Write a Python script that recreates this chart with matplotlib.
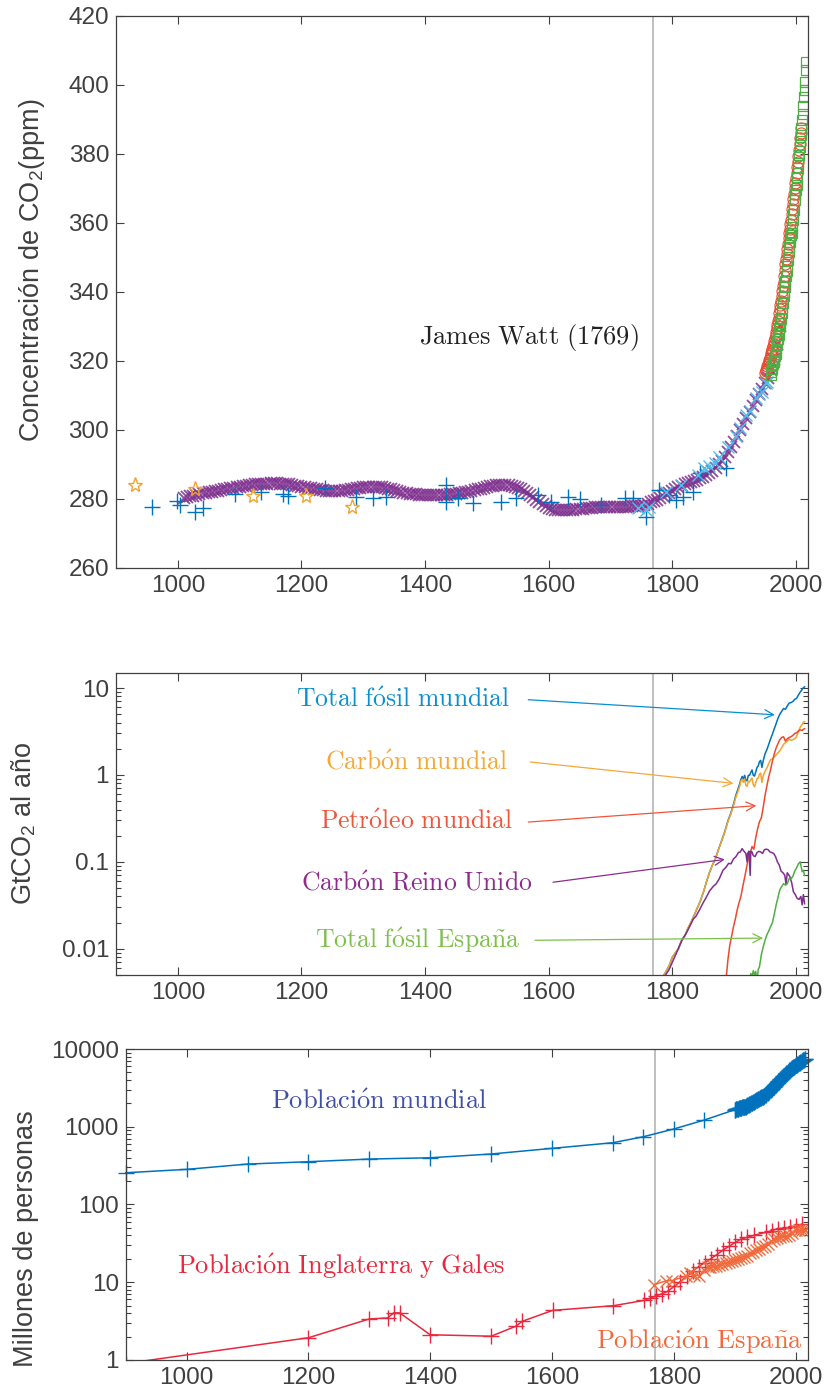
import matplotlib
matplotlib.use('Agg')
import matplotlib.pyplot as plt
from matplotlib.ticker import FixedLocator, FixedFormatter, LogLocator, NullFormatter

# ---------------- CO2 concentration (ppm) ----------------
# ice core samples (+)
core_years = [959, 998, 1003, 1028, 1041, 1092, 1135, 1170, 1178, 1238, 1289, 1316, 1337,
              1434, 1434, 1453, 1477, 1523, 1547, 1582, 1604, 1631, 1650, 1685, 1723, 1736,
              1758, 1779, 1795, 1806, 1817, 1833, 1844, 1887]
core_ppm = [277.6, 279.4, 278.3, 276.3, 277.3, 281.4, 282.0, 281.4, 281.0, 283.1, 280.7, 280.4, 280.7,
            284.0, 279.2, 280.2, 278.8, 279.2, 280.2, 281.2, 279.2, 280.7, 279.9, 278.3, 280.2, 280.2,
            274.9, 282.6, 281.2, 279.7, 280.7, 282.1, 287.5, 288.9]
# second core record (stars)
star_years = [931, 1028, 1122, 1208, 1281]
star_ppm = [284.0, 282.8, 281.0, 281.0, 277.8]
# smoothed record (purple x), every 5 years from 1010 to 1975
smooth_years = list(range(1010, 1980, 5))
smooth_ppm = [280.4, 280.6, 280.8, 281.0, 281.2, 281.4, 281.6, 281.8, 282.0, 282.15,
              282.3, 282.45, 282.6, 282.75, 282.9, 283.1, 283.3, 283.45, 283.6, 283.75,
              283.9, 284.0, 284.1, 284.2, 284.3, 284.35, 284.4, 284.45, 284.5, 284.5,
              284.5, 284.45, 284.4, 284.3, 284.2, 284.05, 283.9, 283.75, 283.6, 283.45,
              283.3, 283.15, 283.0, 282.85, 282.7, 282.55, 282.4, 282.35, 282.3, 282.3,
              282.3, 282.4, 282.5, 282.65, 282.8, 282.95, 283.1, 283.25, 283.4, 283.5,
              283.6, 283.6, 283.6, 283.5, 283.4, 283.2, 283.0, 282.75, 282.5, 282.25,
              282.0, 281.8, 281.6, 281.5, 281.4, 281.3, 281.2, 281.2, 281.2, 281.2,
              281.2, 281.2, 281.2, 281.2, 281.2, 281.25, 281.3, 281.4, 281.5, 281.65,
              281.8, 281.95, 282.1, 282.3, 282.5, 282.75, 283.0, 283.25, 283.5, 283.7,
              283.9, 284.0, 284.1, 284.1, 284.1, 284.0, 283.8, 283.5, 283.2, 282.8,
              282.3, 281.7, 281.1, 280.5, 279.8, 279.1, 278.5, 278.0, 277.5, 277.2,
              276.9, 276.8, 276.7, 276.75, 276.8, 276.85, 276.9, 277.0, 277.1, 277.2,
              277.3, 277.4, 277.5, 277.55, 277.6, 277.65, 277.7, 277.75, 277.8, 277.8,
              277.8, 277.8, 277.8, 277.8, 277.8, 277.85, 277.85, 277.9, 278.1, 278.3,
              278.6, 279.0, 279.4, 279.8, 280.3, 280.8, 281.3, 281.8, 282.4, 282.9,
              283.4, 283.8, 284.2, 284.6, 284.9, 285.2, 285.6, 286.0, 286.5, 287.0,
              287.5, 288.2, 289.0, 290.0, 291.0, 292.2, 293.5, 295.0, 296.5, 298.2,
              300.0, 301.7, 303.5, 305.2, 307.0, 308.8, 310.5, 312.0, 313.5, 315.0,
              317.5, 320.5, 325.0, 330.0]
# firn record (cyan x)
firn_years = [1744, 1757, 1763, 1790, 1814, 1841, 1852, 1860, 1869, 1876, 1890, 1903, 1910, 1919,
              1925, 1935, 1940, 1945, 1951, 1953]
firn_ppm = [277.3, 276.8, 277.8, 282.0, 284.1, 286.9, 288.9, 289.5, 290.5, 292.3, 295.0, 298.2, 300.5, 304.4,
            305.5, 309.2, 310.5, 311.0, 313.5, 314.0]
# atmospheric station (red o)
station_years = list(range(1950, 2010))
station_ppm = [316.5, 317.0, 317.5, 318.0, 318.6, 319.2, 319.8, 320.4, 321.0, 321.6,
               322.2, 322.9, 323.6, 324.3, 325.0, 325.8, 326.7, 327.6, 328.5, 329.5,
               330.5, 331.5, 332.6, 333.8, 335.0, 336.3, 337.5, 338.8, 340.2, 341.6,
               343.0, 344.6, 346.3, 348.0, 349.5, 351.0, 352.5, 354.0, 355.5, 357.0,
               358.3, 359.6, 361.0, 362.5, 364.0, 365.5, 367.0, 368.5, 370.0, 371.5,
               373.0, 374.5, 376.2, 377.8, 379.5, 381.2, 382.9, 384.5, 386.0, 387.5]
# Mauna Loa annual means (green squares)
mlo_years = list(range(1959, 2018))
mlo_ppm = [315.97, 316.91, 317.64, 318.45, 318.99, 319.62, 320.04, 321.38, 322.16, 323.04,
           324.62, 325.68, 326.32, 327.45, 329.68, 330.18, 331.11, 332.04, 333.83, 335.40,
           336.84, 338.75, 340.11, 341.45, 343.05, 344.65, 346.12, 347.42, 349.19, 351.57,
           353.12, 354.39, 355.61, 356.45, 357.10, 358.83, 360.82, 362.61, 363.73, 366.70,
           368.38, 369.55, 371.14, 373.28, 375.80, 377.52, 379.80, 381.90, 383.79, 385.60,
           387.43, 389.90, 391.65, 393.85, 396.52, 398.65, 400.83, 404.24, 406.55]

# ---------------- emissions (GtC per year) ----------------
coal_years = [1751, 1760, 1770, 1780, 1788, 1795, 1800, 1805, 1810, 1815, 1820, 1825, 1830, 1835,
              1840, 1845, 1850, 1855, 1860, 1865, 1870, 1875, 1880, 1885, 1890, 1895, 1900, 1903,
              1906, 1909, 1911, 1913, 1915, 1917, 1919, 1921, 1923, 1925, 1927, 1929, 1931, 1933,
              1935, 1937, 1939, 1941, 1943, 1945, 1947, 1950, 1953, 1956, 1959, 1962, 1965, 1968,
              1971, 1974, 1977, 1980, 1983, 1986, 1989, 1992, 1995, 1998, 2001, 2004, 2007, 2010,
              2012, 2014]
coal_world = [0.0026, 0.0030, 0.0037, 0.0042, 0.0052, 0.0064, 0.0080, 0.0090, 0.0100, 0.0125, 0.0140,
              0.0170, 0.0200, 0.0240, 0.0290, 0.0350, 0.0440, 0.0580, 0.0750, 0.0920, 0.1100, 0.1400,
              0.1750, 0.2200, 0.2900, 0.3600, 0.4700, 0.5600, 0.6400, 0.7400, 0.8500, 0.8900, 0.8200,
              0.9000, 0.7600, 0.7400, 0.8500, 0.8300, 0.8800, 0.9200, 0.7700, 0.7300, 0.8100, 0.9000,
              0.9200, 1.0200, 1.0500, 0.8200, 0.9800, 1.1000, 1.2000, 1.3500, 1.5000, 1.5200, 1.6200,
              1.7000, 1.8000, 1.9000, 2.0500, 2.2500, 2.3500, 2.4500, 2.6000, 2.5000, 2.5500, 2.6000,
              2.7500, 3.1500, 3.5500, 3.8000, 4.0500, 4.1000]
total_world = [0.0026, 0.0030, 0.0037, 0.0042, 0.0052, 0.0064, 0.0080, 0.0090, 0.0100, 0.0125, 0.0140,
               0.0170, 0.0200, 0.0240, 0.0290, 0.0350, 0.0440, 0.0580, 0.0750, 0.0920, 0.1100, 0.1410,
               0.1770, 0.2240, 0.2970, 0.3700, 0.4900, 0.5900, 0.6800, 0.7900, 0.8900, 0.9600, 0.9000,
               0.9900, 0.8600, 0.8600, 0.9900, 0.9900, 1.0700, 1.1400, 0.9900, 0.9700, 1.0800, 1.2200,
               1.2700, 1.4200, 1.4700, 1.2200, 1.4500, 1.7500, 1.9500, 2.2500, 2.6000, 2.9500, 3.4000,
               3.9000, 4.5000, 5.0000, 5.4000, 5.8000, 5.7000, 6.2000, 6.7000, 6.8000, 7.0000, 7.4000,
               7.6000, 8.3000, 9.0000, 9.6000, 10.100, 10.300]
oil_years = [1870, 1880, 1887, 1890, 1893, 1896, 1899, 1902, 1905, 1908, 1911, 1914, 1917, 1920, 1923,
             1926, 1929, 1932, 1935, 1938, 1941, 1944, 1947, 1950, 1953, 1956, 1959, 1962, 1965, 1968,
             1971, 1974, 1977, 1980, 1983, 1986, 1989, 1992, 1995, 1998, 2001, 2004, 2007, 2010, 2012,
             2014]
oil_world = [0.001, 0.002, 0.0045, 0.0075, 0.011, 0.014, 0.018, 0.022, 0.028, 0.034, 0.040, 0.052,
             0.066, 0.085, 0.11, 0.125, 0.15, 0.14, 0.19, 0.24, 0.29, 0.32, 0.42, 0.58, 0.75, 0.95,
             1.15, 1.45, 1.75, 2.05, 2.3, 2.55, 2.7, 2.75, 2.45, 2.6, 2.7, 2.75, 2.85, 3.0, 3.05, 3.2,
             3.3, 3.25, 3.35, 3.4]
uk_years = [1751, 1770, 1785, 1795, 1800, 1806, 1812, 1818, 1822, 1828, 1834, 1838, 1844, 1850, 1854,
            1860, 1866, 1871, 1876, 1882, 1887, 1891, 1895, 1899, 1903, 1907, 1910, 1913, 1915, 1917,
            1919, 1921, 1922, 1924, 1926, 1927, 1929, 1931, 1934, 1937, 1940, 1943, 1946, 1949, 1952,
            1955, 1958, 1961, 1964, 1967, 1970, 1973, 1976, 1979, 1982, 1984, 1986, 1990, 1993, 1996,
            1999, 2002, 2005, 2008, 2010, 2012, 2014]
uk_coal = [0.0024, 0.0033, 0.0045, 0.0058, 0.0070, 0.0087, 0.0110, 0.0135, 0.0148, 0.0180, 0.0220,
           0.0235, 0.0280, 0.0340, 0.0380, 0.0460, 0.0520, 0.0560, 0.0640, 0.0800, 0.0870, 0.0960,
           0.0950, 0.1080, 0.1150, 0.1280, 0.1300, 0.1420, 0.1350, 0.1300, 0.1250, 0.1000, 0.1250,
           0.1330, 0.0700, 0.1320, 0.1300, 0.1180, 0.1150, 0.1280, 0.1320, 0.1300, 0.1250, 0.1380,
           0.1400, 0.1380, 0.1300, 0.1280, 0.1250, 0.1150, 0.1000, 0.0920, 0.0780, 0.0750, 0.0700,
           0.0550, 0.0750, 0.0680, 0.0580, 0.0450, 0.0420, 0.0380, 0.0370, 0.0400, 0.0320, 0.0420,
           0.0330]
es_years = [1900, 1910, 1920, 1925, 1927, 1929, 1931, 1933, 1935, 1937, 1939, 1941, 1944, 1947, 1950,
            1953, 1956, 1959, 1962, 1965, 1968, 1971, 1974, 1977, 1980, 1983, 1986, 1989, 1992, 1995,
            1998, 2001, 2004, 2007, 2010, 2012, 2014]
es_total = [0.0025, 0.003, 0.0038, 0.0042, 0.0052, 0.0047, 0.0056, 0.0050, 0.0055, 0.0040, 0.0058,
            0.0062, 0.0085, 0.0105, 0.0125, 0.0145, 0.0160, 0.0180, 0.0200, 0.0250, 0.0320, 0.0390,
            0.0480, 0.0520, 0.0560, 0.0540, 0.0560, 0.0640, 0.0640, 0.0680, 0.0780, 0.0850, 0.0950,
            0.1000, 0.0770, 0.0800, 0.0700]

# ---------------- population (millions) ----------------
world_years = [900, 1000, 1100, 1200, 1300, 1400, 1500, 1600, 1700, 1750, 1800, 1850] + list(range(1900, 2017))
world_pop = [256, 283, 331, 355, 384, 399, 446, 527, 623, 744, 935, 1219,
             1650, 1660, 1670, 1680, 1690, 1700, 1710, 1720, 1730, 1740,
             1750, 1760, 1770, 1790, 1800, 1800, 1800, 1810, 1810, 1830,
             1860, 1880, 1900, 1920, 1940, 1960, 1980, 2000, 2020, 2050,
             2070, 2090, 2110, 2130, 2160, 2180, 2200, 2230, 2250, 2280,
             2300, 2320, 2340, 2360, 2380, 2400, 2420, 2450, 2470, 2500,
             2536, 2584, 2631, 2680, 2731, 2783, 2836, 2891, 2946, 2991,
             3035, 3077, 3131, 3199, 3269, 3339, 3409, 3478, 3549, 3623,
             3700, 3776, 3851, 3925, 3998, 4070, 4140, 4211, 4283, 4357,
             4458, 4536, 4617, 4698, 4778, 4861, 4946, 5034, 5121, 5208,
             5327, 5406, 5486, 5565, 5643, 5720, 5796, 5872, 5947, 6021,
             6143, 6222, 6301, 6380, 6459, 6539, 6620, 6701, 6783, 6867,
             6957, 7041, 7126, 7211, 7296, 7380, 7464]
ew_years = [900, 1200, 1300, 1330, 1340, 1350, 1400, 1500, 1541, 1551, 1601, 1701, 1751, 1761,
            1771, 1781, 1791, 1801, 1811, 1821, 1831, 1841, 1851, 1861, 1871, 1881, 1891, 1901,
            1911, 1921, 1931, 1951, 1961, 1971, 1981, 1991, 2001, 2011]
ew_pop = [0.9, 1.93, 3.37, 3.47, 4.03, 4.03, 2.11, 2.02, 2.72, 3.14, 4.34, 4.99, 5.83, 6.2,
          6.7, 7.1, 7.7, 8.9, 10.2, 12.0, 13.9, 15.9, 17.9, 20.1, 22.7, 26.0, 29.0, 32.5,
          36.1, 37.9, 40.0, 43.8, 46.1, 49.0, 49.6, 51.1, 52.4, 56.1]
spain_years = [1768, 1787, 1797, 1820, 1826, 1834, 1842, 1850, 1857, 1860, 1865, 1870, 1875, 1880,
               1885, 1890, 1895, 1900, 1905, 1910, 1915, 1920, 1925, 1930, 1935, 1940, 1945, 1950,
               1955, 1960, 1965, 1970, 1975, 1980, 1985, 1990, 1995, 2000, 2005, 2010, 2015, 2016]
spain_pop = [9.3, 10.4, 10.5, 12.0, 13.2, 12.3, 12.1, 14.5, 15.5, 15.7, 16.0, 16.3, 16.6, 17.2,
             17.5, 18.1, 18.6, 19.3, 19.9, 20.5, 21.3, 22.0, 23.5, 24.5, 25.9, 26.5, 28.0, 29.6,
             31.4, 33.6, 35.6, 37.4, 38.4, 38.9, 39.2, 40.4, 43.4, 46.6, 46.5, 46.4, 46.4, 46.5]

watt_year = 1769

C_BLUE = '#0072BD'
C_ORANGE = '#F2A42C'
C_RED = '#EC4A2C'
C_PURPLE = '#7E2F8E'
C_CYAN = '#4DBEEE'
C_GREEN = '#4FAF45'

plt.rcParams['font.family'] = ['Liberation Sans', 'DejaVu Sans']
plt.rcParams['mathtext.fontset'] = 'custom'
plt.rcParams['mathtext.rm'] = 'Liberation Sans'
plt.rcParams['mathtext.default'] = 'regular'
GREY = '#404040'


def cm(s):
    # Computer Modern roman through mathtext, with TeX accents for the Spanish letters
    s = s.replace(' ', r'\ ').replace('ó', r'\acute{o}').replace('ñ', r'\tilde{n}')
    return r'$\mathrm{' + s + '}$'


def style_axes(ax):
    ax.set_xlim(900, 2020)
    ax.xaxis.set_major_locator(FixedLocator([1000, 1200, 1400, 1600, 1800, 2000]))
    ax.tick_params(which='both', direction='in', top=True, right=True,
                   labelsize=17.5, colors=GREY, width=0.8)
    ax.tick_params(which='major', length=6, pad=5)
    ax.tick_params(which='minor', length=3.5)
    for s in ax.spines.values():
        s.set_color(GREY)
        s.set_linewidth(0.9)
    ax.axvline(watt_year, color='#b4b4b4', lw=1.2, zorder=0)


fig = plt.figure(figsize=(8.37, 14), dpi=100)
ax1 = fig.add_axes([0.1386, 0.5943, 0.8271, 0.3943])
ax2 = fig.add_axes([0.1386, 0.3036, 0.8271, 0.2159])
ax3 = fig.add_axes([0.1502, 0.0286, 0.8148, 0.2221])

# --- CO2 concentration
style_axes(ax1)
ax1.plot(smooth_years, smooth_ppm, 'x', color=C_PURPLE, ms=9, mew=1.3, alpha=0.85)
ax1.plot(core_years, core_ppm, '+', color=C_BLUE, ms=12, mew=1.0)
ax1.plot(star_years, star_ppm, '*', color=C_ORANGE, ms=11, mew=1.0, mfc='none')
ax1.plot(firn_years, firn_ppm, 'x', color=C_CYAN, ms=8, mew=1.0)
ax1.plot(station_years, station_ppm, 'o', color=C_RED, ms=8, mew=0.8, mfc='none')
ax1.plot(mlo_years, mlo_ppm, 's', color=C_GREEN, ms=7.5, mew=0.9, mfc='none')
ax1.set_ylim(260, 420)
ax1.set_yticks(range(260, 421, 20))
ax1.set_ylabel('Concentración de CO$_2$(ppm)', fontsize=19.5, color=GREY)
ax1.yaxis.set_label_coords(-0.1, 0.54)
ax1.text(1568, 326.7, cm('James Watt (1769)'), math_fontfamily='cm', fontsize=19,
         color='#222222', ha='center', va='center')

# --- emissions
style_axes(ax2)
ax2.set_yscale('log')
ax2.plot(coal_years, total_world, color=C_BLUE, lw=1.1)
ax2.plot(coal_years, coal_world, color=C_ORANGE, lw=1.1)
ax2.plot(oil_years, oil_world, color=C_RED, lw=1.1)
ax2.plot(uk_years, uk_coal, color=C_PURPLE, lw=1.1)
ax2.plot(es_years, es_total, color=C_GREEN, lw=1.1)
ax2.set_ylim(0.005, 15)
ax2.yaxis.set_major_locator(FixedLocator([0.01, 0.1, 1, 10]))
ax2.yaxis.set_major_formatter(FixedFormatter(['0.01', '0.1', '1', '10']))
ax2.yaxis.set_minor_locator(LogLocator(base=10, subs=range(2, 10), numticks=20))
ax2.yaxis.set_minor_formatter(NullFormatter())
ax2.set_ylabel('GtCO$_2$ al año', fontsize=19.5, color=GREY)
ax2.yaxis.set_label_coords(-0.112, 0.5)

labels2 = [
    ('Total fósil mundial', '#0A8FD0', (1364, 7.33), (1567, 7.33), (1966, 4.92)),
    ('Carbón mundial', '#F5A83A', (1386, 1.41), (1570, 1.41), (1899, 0.80)),
    ('Petróleo mundial', '#F0553A', (1386, 0.287), (1567, 0.287), (1936, 0.443)),
    ('Carbón Reino Unido', '#8E2C8E', (1386, 0.0569), (1607, 0.0583), (1885, 0.1067)),
    ('Total fósil España', '#7CC04A', (1387, 0.01253), (1578, 0.01253), (1947, 0.01327)),
]
for text, col, pos, start, tip in labels2:
    ax2.text(pos[0], pos[1], cm(text), math_fontfamily='cm', fontsize=18.5, color=col,
             ha='center', va='center')
    ax2.annotate('', xy=tip, xytext=start,
                 arrowprops=dict(arrowstyle='->', color=col, lw=0.9,
                                 mutation_scale=16, shrinkA=0, shrinkB=0))

# --- population
style_axes(ax3)
ax3.set_yscale('log')
ax3.plot(world_years, world_pop, '-+', color=C_BLUE, lw=1.1, ms=12, mew=1.0, clip_on=False)
ax3.plot(ew_years, ew_pop, '-+', color='#E8283C', lw=1.1, ms=12, mew=1.0)
ax3.plot(spain_years, spain_pop, '-x', color='#F26A3B', lw=1.1, ms=9, mew=1.0)
ax3.set_ylim(1, 10000)
ax3.yaxis.set_major_locator(FixedLocator([1, 10, 100, 1000, 10000]))
ax3.yaxis.set_major_formatter(FixedFormatter(['1', '10', '100', '1000', '10000']))
ax3.yaxis.set_minor_locator(LogLocator(base=10, subs=range(2, 10), numticks=20))
ax3.yaxis.set_minor_formatter(NullFormatter())
ax3.set_ylabel('Millones de personas', fontsize=19.5, color=GREY)
ax3.yaxis.set_label_coords(-0.127, 0.39)
ax3.text(1316, 2096, cm('Población mundial'), math_fontfamily='cm', fontsize=19,
         color='#3F4FA8', ha='center', va='center')
ax3.text(1253, 15.8, cm('Población Inglaterra y Gales'), math_fontfamily='cm', fontsize=19,
         color='#E8283C', ha='center', va='center')
ax3.text(2011, 1.75, cm('Población España'), math_fontfamily='cm', fontsize=19,
         color='#F26A3B', ha='right', va='center')

fig.savefig('out.png', dpi=100)
